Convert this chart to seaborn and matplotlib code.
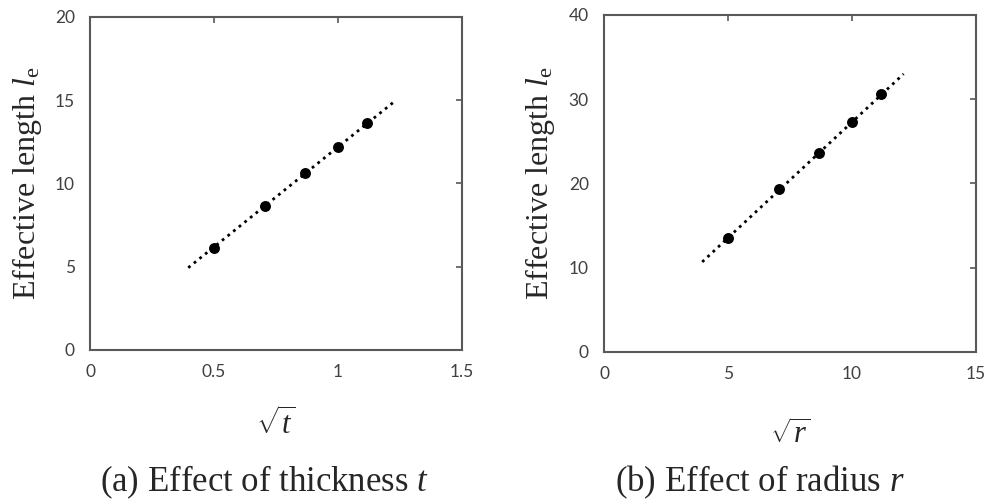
import numpy as np
import pandas as pd
import matplotlib
matplotlib.use("Agg")
import matplotlib.pyplot as plt
import seaborn as sns

# (a) thickness: sqrt(t) vs effective length
sqrt_t = [0.5, 0.707, 0.866, 1.0, 1.118]
le_t = [6.15, 8.66, 10.62, 12.2, 13.62]
# dotted trend line end points
trend_t_x = [0.396, 1.222]
trend_t_y = [4.94, 14.86]

# (b) radius: sqrt(r) vs effective length
sqrt_r = [5.0, 7.07, 8.66, 10.0, 11.18]
le_r = [13.58, 19.29, 23.6, 27.33, 30.6]
trend_r_x = [3.96, 12.08]
trend_r_y = [10.69, 33.0]

sns.set_style("white")
plt.rcParams["font.family"] = ["Lato", "DejaVu Sans"]
plt.rcParams["mathtext.fontset"] = "custom"
plt.rcParams["mathtext.rm"] = "Liberation Serif"
plt.rcParams["mathtext.it"] = "Liberation Serif:italic"

grey = "#595959"
serif = ["Liberation Serif", "DejaVu Serif"]

fig = plt.figure(figsize=(9.85, 5.04), dpi=100)
ax1 = fig.add_axes([0.0914, 0.3056, 0.3777, 0.6607])
ax2 = fig.add_axes([0.6132, 0.3016, 0.3777, 0.6687])


def panel(ax, x, y, tx, ty, xlim, ylim, xticks, xticklabels, yticks, xlabel, xpad):
    df = pd.DataFrame({"x": x, "y": y})
    tr = pd.DataFrame({"x": tx, "y": ty})
    sns.lineplot(data=tr, x="x", y="y", ax=ax, color="black",
                 linestyle=(0, (1, 1.6)), linewidth=2.0)
    sns.scatterplot(data=df, x="x", y="y", ax=ax, color="black", s=62,
                    edgecolor="black", linewidth=0, zorder=3)
    ax.set_xlim(xlim)
    ax.set_ylim(ylim)
    ax.set_xticks(xticks)
    ax.set_xticklabels(xticklabels)
    ax.set_yticks(yticks)
    ax.tick_params(axis="both", which="both", left=False, bottom=False,
                   right=True, top=True, direction="in", length=4,
                   width=1.2, color=grey, labelsize=12.5, labelcolor="#404040")
    ax.tick_params(axis="y", pad=11)
    ax.tick_params(axis="x", pad=10)
    for s in ax.spines.values():
        s.set_color(grey)
        s.set_linewidth(1.5)
    ax.set_ylabel(r"Effective length $l_{\mathrm{e}}$", fontsize=23,
                  family=serif, labelpad=8)
    ax.set_xlabel(xlabel, fontsize=22, labelpad=xpad)


panel(ax1, sqrt_t, le_t, trend_t_x, trend_t_y, (0, 1.5), (0, 20),
      [0, 0.5, 1, 1.5], ["0", "0.5", "1", "1.5"], [0, 5, 10, 15, 20],
      r"$\sqrt{t}$", 19)
panel(ax2, sqrt_r, le_r, trend_r_x, trend_r_y, (0, 15), (0, 40),
      [0, 5, 10, 15], ["0", "5", "10", "15"], [0, 10, 20, 30, 40],
      r"$\sqrt{r}$", 26)

fig.text(0.268, 0.044, r"(a) Effect of thickness $t$", ha="center",
         va="center", fontsize=25, family=serif)
fig.text(0.7716, 0.044, r"(b) Effect of radius $r$", ha="center",
         va="center", fontsize=25, family=serif)

fig.savefig("out.png", dpi=100)
